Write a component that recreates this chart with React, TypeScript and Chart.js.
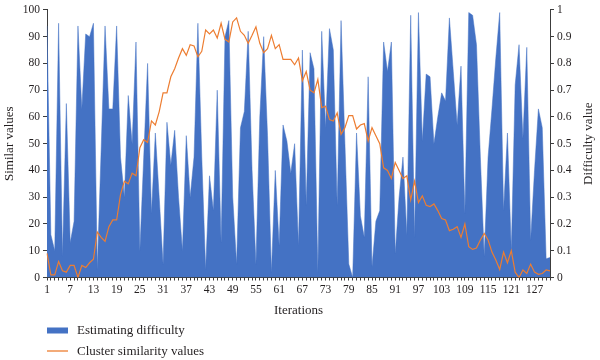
import { useEffect, useRef } from 'react';
import { Chart, registerables } from 'chart.js';

Chart.register(...registerables);

// Iteration categories 1..131
const iterations: string[] = Array.from({ length: 131 }, (_, i) => String(i + 1));

// Tick labels shown on the x axis
const xTickLabels: string[] = ['1', '7', '13', '19', '25', '31', '37', '43', '49', '55', '61', '67', '73', '79', '85', '91', '97', '103', '109', '115', '121', '127'];

// Estimating difficulty (right axis, 0..1)
const difficulty: number[] = [
  0.94, 0.16, 0.10, 0.95, 0.08, 0.65, 0.13, 0.21, 0.94, 0.63,
  0.91, 0.90, 0.95, 0.03, 0.48, 0.94, 0.63, 0.63, 0.94, 0.45,
  0.30, 0.68, 0.50, 0.88, 0.10, 0.45, 0.80, 0.24, 0.54, 0.30,
  0.05, 0.58, 0.42, 0.55, 0.30, 0.10, 0.53, 0.30, 0.45, 0.95,
  0.45, 0.03, 0.38, 0.25, 0.70, 0.13, 0.90, 0.96, 0.30, 0.05,
  0.56, 0.62, 0.92, 0.40, 0.05, 0.60, 0.90, 0.53, 0.02, 0.40,
  0.12, 0.57, 0.51, 0.39, 0.50, 0.12, 0.85, 0.27, 0.84, 0.78,
  0.02, 0.92, 0.56, 0.93, 0.85, 0.27, 0.96, 0.50, 0.05, 0.00,
  0.54, 0.23, 0.15, 0.75, 0.04, 0.21, 0.25, 0.88, 0.77, 0.88,
  0.09, 0.30, 0.45, 0.16, 0.98, 0.15, 0.99, 0.51, 0.76, 0.75,
  0.50, 0.60, 0.69, 0.66, 0.97, 0.77, 0.57, 0.79, 0.24, 0.99,
  0.98, 0.87, 0.45, 0.08, 0.45, 0.63, 0.82, 0.99, 0.25, 0.54,
  0.10, 0.72, 0.87, 0.52, 0.86, 0.14, 0.40, 0.63, 0.56, 0.07,
  0.075,
];

// Cluster similarity values (left axis, 0..100)
const similarity: number[] = [
  9, 1, 1, 6, 2.5, 2, 4.5, 4.5, 0, 4.5,
  3.7, 5.5, 6.8, 17, 15, 13.5, 19, 21.5, 21.5, 31,
  36, 35, 39, 38, 48.5, 51.5, 50.5, 58.5, 57, 62,
  69, 69, 75, 78, 82, 85.5, 83, 87, 86.5, 82.5,
  84.5, 92.5, 91, 92.5, 89.5, 95, 89, 88, 95.5, 97,
  92, 90.5, 87.5, 90.5, 93.7, 87.5, 84, 85.5, 90.5, 85.5,
  87, 81.5, 81.5, 81.5, 79.5, 82, 73.5, 77, 70, 69,
  74, 63.5, 64, 59, 58.5, 61.5, 53.5, 56, 60.5, 60.5,
  55.5, 57, 57.5, 51, 56, 53, 50, 41, 40, 37,
  43, 40, 37, 38, 29, 36, 28, 30.5, 27, 26.5,
  27.5, 25, 22, 21.5, 17.5, 18, 19, 15, 20, 11.5,
  10.5, 11, 14, 16.5, 14, 9.5, 6.5, 3, 9.5, 5.5,
  10, 2, 0, 2.8, 1.5, 5, 2, 1.2, 1.5, 2.8,
  2.5,
];

const rightTitle = 'Difficulty value';

const BLUE = '#4472C4';
const ORANGE = '#ED7D31';
const AXIS = '#3c3c3c';
const TEXT = '#231f20';
const FAMILY = "'Liberation Serif', 'DejaVu Serif', serif";

const stackedLegend = {
  id: 'stackedLegend',
  afterDraw(chart: any) {
    const ctx = chart.ctx as CanvasRenderingContext2D;
    const ds = chart.data.datasets;
    const area = chart.chartArea;
    ctx.save();
    ctx.font = `13px ${FAMILY}`;
    ctx.textBaseline = 'middle';
    // area item
    ctx.fillStyle = ds[0].backgroundColor;
    ctx.fillRect(47, 327.5, 21, 6);
    ctx.fillStyle = TEXT;
    ctx.fillText(ds[0].label, 77, 330.5);
    // line item
    ctx.strokeStyle = ds[1].borderColor;
    ctx.lineWidth = 1.3;
    ctx.beginPath();
    ctx.moveTo(47, 351);
    ctx.lineTo(68, 351);
    ctx.stroke();
    ctx.fillStyle = TEXT;
    ctx.fillText(ds[1].label, 77, 351.5);
    // right axis title, reading bottom to top
    ctx.translate(589, (area.top + area.bottom) / 2);
    ctx.rotate(-Math.PI / 2);
    ctx.textAlign = 'center';
    ctx.fillText(rightTitle, 0, 0);
    ctx.restore();
  },
};

export default function App() {
  const ref = useRef<HTMLCanvasElement>(null);

  useEffect(() => {
    const tickFont = { family: FAMILY, size: 11.5 };
    const titleFont = { family: FAMILY, size: 13 };
    const chart = new Chart(ref.current!, {
      type: 'line',
      data: {
        labels: iterations,
        datasets: [
          {
            label: 'Estimating difficulty',
            data: difficulty,
            yAxisID: 'y1',
            backgroundColor: BLUE,
            borderColor: BLUE,
            borderWidth: 0.5,
            fill: 'origin',
            pointRadius: 0,
            tension: 0,
            order: 2,
          },
          {
            label: 'Cluster similarity values',
            data: similarity,
            yAxisID: 'y',
            borderColor: ORANGE,
            backgroundColor: ORANGE,
            borderWidth: 1.2,
            fill: false,
            pointRadius: 0,
            tension: 0,
            order: 1,
          },
        ],
      },
      options: {
        animation: false,
        responsive: false,
        layout: { padding: { top: 8, bottom: 37.5, left: 0, right: 0 } },
        plugins: {
          legend: { display: false },
          tooltip: { enabled: false },
        },
        scales: {
          x: {
            type: 'category',
            offset: false,
            grid: { drawOnChartArea: false, drawTicks: true, tickLength: 3, color: AXIS },
            border: { color: AXIS },
            ticks: {
              autoSkip: false,
              maxRotation: 0,
              minRotation: 0,
              padding: 3,
              font: tickFont,
              color: TEXT,
              callback: (_v: any, i: number) => (xTickLabels.includes(iterations[i]) ? iterations[i] : ''),
            },
            title: { display: true, text: 'Iterations', font: titleFont, color: TEXT, padding: { top: 2, bottom: 4 } },
            afterFit: (s: any) => { s.height = 45; },
          },
          y: {
            position: 'left',
            min: 0,
            max: 100,
            grid: { drawOnChartArea: false, drawTicks: true, tickLength: 4, color: AXIS },
            border: { color: AXIS },
            ticks: { stepSize: 10, font: tickFont, color: TEXT, padding: 3 },
            title: { display: true, text: 'Similar values', font: titleFont, color: TEXT, padding: { top: 2, bottom: 2 } },
            afterFit: (s: any) => { s.width = 47; },
          },
          y1: {
            position: 'right',
            min: 0,
            max: 1,
            grid: { drawOnChartArea: false, drawTicks: true, tickLength: 4, color: AXIS },
            border: { color: AXIS },
            ticks: {
              stepSize: 0.1,
              font: tickFont,
              color: TEXT,
              padding: 3,
              callback: (v: any) => String(Number(Number(v).toFixed(1))),
            },
            title: { display: false },
            afterFit: (s: any) => { s.width = 50; },
          },
        },
      },
      plugins: [stackedLegend],
    });
    return () => chart.destroy();
  }, []);

  return (
    <div style={{ position: 'fixed', left: 0, top: 0, width: 600, height: 360, background: '#fff' }}>
      <canvas ref={ref} width={600} height={360} />
    </div>
  );
}
